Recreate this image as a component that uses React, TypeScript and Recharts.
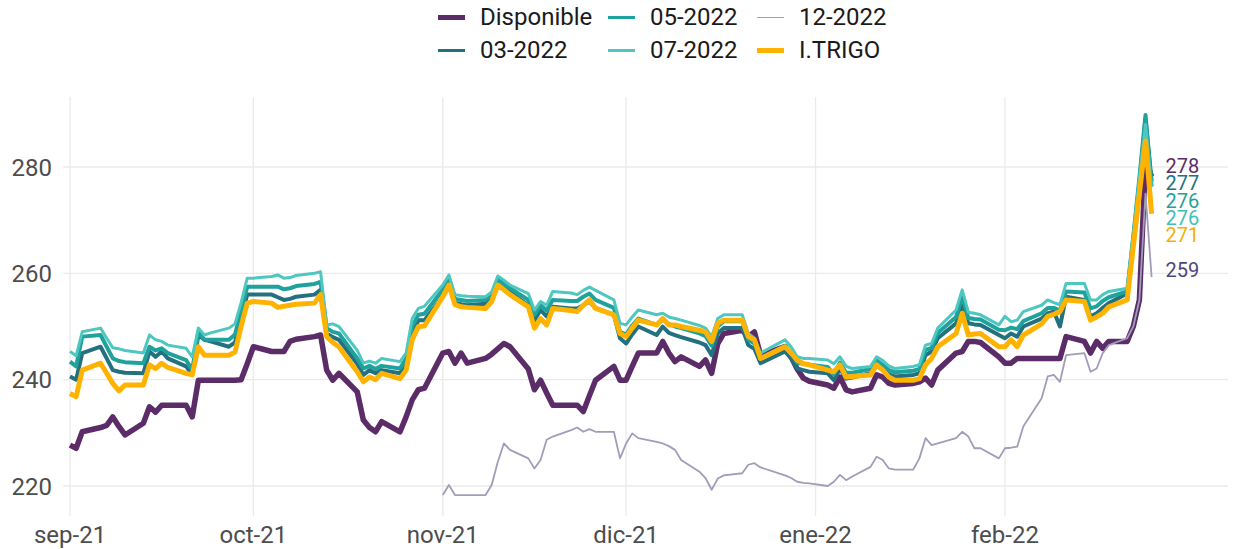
import React from "react";
import { ComposedChart, Line, XAxis, YAxis, CartesianGrid, Scatter } from "recharts";

const dates: string[] = [
  "2021-09-01","2021-09-02","2021-09-03","2021-09-06","2021-09-07","2021-09-08","2021-09-09","2021-09-10",
  "2021-09-13","2021-09-14","2021-09-15","2021-09-16","2021-09-17","2021-09-20","2021-09-21","2021-09-22",
  "2021-09-23","2021-09-24","2021-09-27","2021-09-28","2021-09-29","2021-09-30",
  "2021-10-01","2021-10-04","2021-10-05","2021-10-06","2021-10-07","2021-10-08","2021-10-11","2021-10-12",
  "2021-10-13","2021-10-14","2021-10-15","2021-10-18","2021-10-19","2021-10-20","2021-10-21","2021-10-22",
  "2021-10-25","2021-10-26","2021-10-27","2021-10-28","2021-10-29",
  "2021-11-01","2021-11-02","2021-11-03","2021-11-04","2021-11-05","2021-11-08","2021-11-09","2021-11-10",
  "2021-11-11","2021-11-12","2021-11-15","2021-11-16","2021-11-17","2021-11-18","2021-11-19","2021-11-22",
  "2021-11-23","2021-11-24","2021-11-25","2021-11-26","2021-11-29","2021-11-30",
  "2021-12-01","2021-12-02","2021-12-03","2021-12-06","2021-12-07","2021-12-08","2021-12-09","2021-12-10",
  "2021-12-13","2021-12-14","2021-12-15","2021-12-16","2021-12-17","2021-12-20","2021-12-21","2021-12-22",
  "2021-12-23","2021-12-27","2021-12-28","2021-12-29","2021-12-30","2021-12-31",
  "2022-01-03","2022-01-04","2022-01-05","2022-01-06","2022-01-07","2022-01-10","2022-01-11","2022-01-12",
  "2022-01-13","2022-01-14","2022-01-17","2022-01-18","2022-01-19","2022-01-20","2022-01-21","2022-01-24",
  "2022-01-25","2022-01-26","2022-01-27","2022-01-28","2022-01-31",
  "2022-02-01","2022-02-02","2022-02-03","2022-02-04","2022-02-07","2022-02-08","2022-02-09","2022-02-10",
  "2022-02-11","2022-02-14","2022-02-15","2022-02-16","2022-02-17","2022-02-18","2022-02-21","2022-02-22",
  "2022-02-23","2022-02-24","2022-02-25",
];

const disponible: number[] = [
  227.7,227.1,230.2,231.0,231.4,233.0,231.2,229.6,
  231.8,234.9,233.9,235.2,235.2,235.2,233.0,239.9,
  239.9,239.9,239.9,239.9,240.0,243.0,
  246.2,245.3,245.3,245.3,247.2,247.6,248.1,248.4,
  241.8,239.9,241.2,237.7,232.4,231.0,230.2,232.1,
  230.2,233.0,236.2,238.1,238.4,
  245.0,245.3,243.1,245.0,243.1,244.0,244.8,245.8,
  246.8,246.2,242.0,238.1,239.9,237.5,235.2,235.2,
  235.2,234.0,237.0,239.9,242.5,239.9,
  239.9,242.5,245.0,245.0,247.2,245.0,243.4,244.3,
  242.5,243.7,241.2,246.8,248.7,249.3,248.1,249.0,
  244.6,246.2,244.3,242.0,240.3,239.7,
  239.0,238.4,240.5,238.1,237.7,238.4,240.9,240.5,
  239.3,239.0,239.3,239.6,240.3,239.0,241.8,245.0,
  245.3,247.2,247.2,247.0,244.3,
  243.1,243.1,244.0,244.0,244.0,244.0,244.0,244.0,
  248.1,247.2,245.0,247.2,245.9,247.2,247.2,250.0,
  255.0,281.0,278.2,
];

const m03: number[] = [
  240.6,240.0,245.0,246.2,244.0,241.8,241.5,241.3,
  241.2,245.3,244.3,245.3,244.0,242.5,240.9,248.4,
  247.5,247.2,246.2,247.0,251.5,256.0,
  256.0,256.0,255.5,255.0,255.2,255.6,256.0,256.9,
  248.7,248.0,247.5,243.0,240.9,241.8,241.2,241.8,
  241.2,243.0,248.5,251.2,251.2,
  255.6,258.4,254.5,254.2,254.0,254.3,255.3,258.1,
  257.3,256.5,254.0,251.2,253.1,251.9,253.7,253.4,
  253.4,254.0,254.7,253.5,252.2,247.8,
  246.8,248.5,250.0,248.4,250.0,248.8,248.4,248.0,
  247.0,246.5,244.6,248.7,249.7,249.7,246.5,245.8,
  243.1,245.3,244.0,242.1,241.8,241.5,
  241.2,239.9,242.1,240.2,240.4,241.2,242.8,242.0,
  241.0,240.6,240.9,241.2,244.6,245.3,247.8,250.6,
  254.4,250.6,250.4,250.3,248.4,
  247.8,248.7,248.1,250.0,251.5,252.5,252.8,250.0,
  255.6,255.0,251.9,252.5,253.5,254.4,256.2,266.0,
  277.0,289.0,277.4,
];

const m05: number[] = [
  243.4,242.5,248.1,248.4,246.2,244.0,243.5,243.3,
  243.1,246.2,245.5,245.9,245.0,243.7,241.8,249.0,
  247.5,247.5,247.5,248.5,253.0,257.5,
  257.5,257.5,257.5,257.0,257.2,257.6,258.0,258.4,
  249.7,249.0,248.7,244.0,242.1,242.6,242.0,242.6,
  242.1,244.0,250.0,252.2,252.4,
  256.9,259.0,255.2,255.0,254.8,255.0,256.0,258.8,
  258.0,257.2,255.0,252.2,254.0,253.0,255.0,254.8,
  254.8,255.6,256.2,255.0,253.5,249.0,
  248.5,250.2,251.5,250.3,251.3,250.5,250.0,249.7,
  248.7,248.2,246.4,250.0,251.0,251.0,247.5,246.8,
  244.0,246.4,245.1,243.2,243.0,242.8,
  242.4,241.0,243.2,241.3,241.3,242.0,243.6,242.8,
  241.8,241.4,241.7,242.0,245.6,246.0,248.8,251.8,
  255.7,251.6,251.4,251.3,249.4,
  249.3,249.8,249.5,251.0,252.5,253.5,253.5,253.0,
  256.6,256.4,253.4,253.8,254.8,255.5,256.6,267.0,
  278.0,289.8,276.4,
];

const m07: number[] = [
  245.3,244.5,249.0,249.7,247.8,246.0,245.8,245.5,
  245.0,248.4,247.5,247.2,246.5,245.9,244.3,249.7,
  248.4,248.8,249.7,250.5,254.5,259.1,
  259.1,259.4,259.7,259.1,259.2,259.6,260.0,260.3,
  250.3,250.5,250.0,245.5,243.1,243.5,243.1,244.0,
  243.4,245.0,251.5,253.4,253.8,
  257.8,259.7,256.0,255.8,255.7,255.6,256.5,259.5,
  258.7,257.8,256.2,253.1,254.7,254.0,256.6,256.3,
  256.0,256.8,257.4,256.8,255.0,250.6,
  250.3,251.8,253.1,252.2,252.5,251.8,251.5,251.2,
  250.2,249.7,248.1,251.5,252.2,252.2,248.7,247.8,
  245.0,247.5,246.2,244.3,244.0,244.0,
  243.7,243.0,244.3,242.5,242.1,242.5,244.3,243.6,
  242.6,242.1,242.5,242.8,246.5,246.8,249.7,253.1,
  256.9,252.7,252.5,252.2,250.3,
  251.9,250.9,251.2,252.8,254.0,255.0,254.5,254.1,
  258.1,258.1,255.0,255.0,256.0,256.6,257.2,267.5,
  278.0,288.0,276.2,
];

const m12: (number | null)[] = [
  null,null,null,null,null,null,null,null,
  null,null,null,null,null,null,null,null,
  null,null,null,null,null,null,
  null,null,null,null,null,null,null,null,
  null,null,null,null,null,null,null,null,
  null,null,null,null,null,
  218.3,220.2,218.3,218.3,218.3,218.3,220.2,224.5,
  228.0,226.8,225.2,223.3,224.9,228.7,229.3,230.5,
  231.0,230.2,230.7,230.2,230.2,225.2,
  228.0,229.9,229.0,228.3,228.0,227.5,226.8,224.9,
  222.7,221.5,219.3,221.4,222.0,222.4,224.0,224.3,
  223.5,222.0,221.5,220.8,220.6,220.5,
  220.0,220.8,222.1,221.1,221.8,223.6,225.5,224.9,
  223.3,223.1,223.1,225.2,229.0,227.7,228.0,229.0,
  230.2,229.3,227.1,227.1,225.2,
  227.1,227.2,227.4,231.2,236.5,240.6,240.9,239.6,
  244.6,245.0,241.5,242.1,245.0,246.5,247.8,250.0,
  255.0,275.0,259.3,
];

const itrigo: number[] = [
  237.4,236.8,241.8,243.1,241.2,239.3,237.9,239.0,
  239.0,242.8,242.1,243.1,242.3,241.2,240.9,246.2,
  244.6,244.6,244.6,245.2,250.0,254.4,
  254.7,254.4,253.6,253.8,254.0,254.2,254.4,256.0,
  248.1,247.0,246.2,241.5,239.6,240.5,240.0,241.2,
  240.2,241.8,247.5,250.0,250.1,
  255.6,257.8,254.1,253.7,253.6,253.4,254.7,257.8,
  256.9,256.0,253.7,249.7,251.5,250.3,253.4,253.0,
  252.8,254.0,255.0,253.4,252.2,248.7,
  248.1,249.7,251.2,250.3,251.5,250.3,250.3,250.0,
  249.3,249.0,247.2,250.6,251.2,251.2,248.1,247.5,
  244.0,246.2,245.0,243.7,243.0,242.8,
  241.8,241.5,242.8,240.5,240.6,240.9,242.8,241.8,
  240.5,239.9,239.9,240.2,242.8,244.0,246.2,248.7,
  252.5,248.4,248.6,248.7,246.2,
  246.2,247.5,246.2,248.4,250.5,251.9,252.3,252.8,
  255.0,254.7,251.2,251.8,252.5,253.7,255.0,265.0,
  275.0,284.9,271.2,
];

const seriesNames: string[] = ["Disponible", "03-2022", "05-2022", "07-2022", "12-2022", "I.TRIGO"];
const monthTickDates: string[] = ["2021-09-01", "2021-10-01", "2021-11-01", "2021-12-01", "2022-01-01", "2022-02-01"];
const monthLabels: string[] = ["sep-21", "oct-21", "nov-21", "dic-21", "ene-22", "feb-22"];
const yTicks: number[] = [220, 240, 260, 280];

// styles (kept apart from the data)
const seriesStyle: Record<string, { color: string; width: number; label: string }> = {
  "Disponible": { color: "#5b2c67", width: 5.5, label: "#5b2c67" },
  "03-2022": { color: "#23707f", width: 4, label: "#23707f" },
  "05-2022": { color: "#1fa19c", width: 4, label: "#1fa19c" },
  "07-2022": { color: "#4dc7bf", width: 3, label: "#3fc0b6" },
  "12-2022": { color: "#a19db9", width: 1.8, label: "#4a487a" },
  "I.TRIGO": { color: "#ffb300", width: 5, label: "#f5b000" },
};

const ORIGIN = Date.UTC(2021, 8, 1);
const toDay = (s: string) => {
  const [y, m, d] = s.split("-").map(Number);
  return Math.round((Date.UTC(y, m - 1, d) - ORIGIN) / 86400000);
};

const seriesValues: Record<string, (number | null)[]> = {
  "Disponible": disponible,
  "03-2022": m03,
  "05-2022": m05,
  "07-2022": m07,
  "12-2022": m12,
  "I.TRIGO": itrigo,
};

const rows = dates.map((d, i) => {
  const r: Record<string, number | null> = { day: toDay(d) };
  seriesNames.forEach((n) => (r[n] = seriesValues[n][i]));
  return r;
});

const tickDays = monthTickDates.map(toDay);
const tickLabelFor = (v: number) => {
  const i = tickDays.indexOf(v);
  return i >= 0 ? monthLabels[i] : "";
};

// end labels, spread apart so they do not overlap (in value units)
const lastIdx = dates.length - 1;
const lastDay = toDay(dates[lastIdx]);
const endLabels = (() => {
  const items = seriesNames
    .map((n) => ({ name: n, value: seriesValues[n][lastIdx] as number }))
    .sort((a, b) => b.value - a.value);
  const out: { day: number; pos: number; text: string; color: string }[] = [];
  let prev = Infinity;
  items.forEach((it, k) => {
    const target = k === 0 ? it.value + 2.0 : it.value + 1.3;
    const pos = Math.min(target, prev - 3.25);
    prev = pos;
    out.push({ day: lastDay, pos, text: String(Math.round(it.value)), color: seriesStyle[it.name].label });
  });
  return out;
})();

const FONT = "Roboto, 'Noto Sans', sans-serif";

const renderEndLabel = (p: any) => {
  const item = p.payload;
  return (
    <text
      x={p.cx + 14}
      y={p.cy}
      dy="0.355em"
      textAnchor="start"
      fontFamily={FONT}
      fontSize={20}
      fill={item.color}
    >
      {item.text}
    </text>
  );
};

function LegendBlock() {
  return (
    <div
      style={{
        position: "absolute",
        left: 438,
        top: 1,
        display: "grid",
        gridAutoFlow: "column",
        gridTemplateRows: "33px 33px",
        gridTemplateColumns: "170px 149px auto",
        fontFamily: FONT,
        fontSize: 24,
        color: "#1a1a1a",
      }}
    >
      {seriesNames.map((n) => (
        <div key={n} style={{ display: "flex", alignItems: "center", height: 33 }}>
          <span
            style={{
              display: "inline-block",
              width: 27,
              height: Math.max(1.5, seriesStyle[n].width - 0.5),
              background: seriesStyle[n].color,
              marginRight: 15,
            }}
          />
          <span style={{ lineHeight: "33px", whiteSpace: "nowrap" }}>{n}</span>
        </div>
      ))}
    </div>
  );
}

export default function App() {
  return (
    <div style={{ position: "absolute", left: 0, top: 0, width: 1237, height: 549, background: "#ffffff" }}>
      <ComposedChart width={1237} height={549} data={rows} margin={{ top: 97, right: 9, bottom: 0, left: 0 }}>
        <CartesianGrid
          stroke="#ebebeb"
          strokeWidth={1.3}
          horizontalValues={yTicks}
          verticalValues={tickDays}
        />
        <XAxis
          type="number"
          dataKey="day"
          domain={[-1.15, 189.5]}
          ticks={tickDays}
          interval={0}
          tickFormatter={tickLabelFor}
          height={33}
          axisLine={false}
          tickLine={false}
          tickSize={0}
          tickMargin={10}
          allowDataOverflow
          tick={{ fill: "#4d4d4d", fontSize: 24, fontFamily: FONT }}
        />
        <YAxis
          type="number"
          domain={[214.36, 293.17]}
          ticks={yTicks}
          interval={0}
          width={63}
          axisLine={false}
          tickLine={false}
          tickSize={0}
          tickMargin={11}
          allowDataOverflow
          tick={{ fill: "#4d4d4d", fontSize: 24, fontFamily: FONT }}
        />
        {seriesNames.map((n) => (
          <Line
            key={n}
            type="linear"
            dataKey={n}
            stroke={seriesStyle[n].color}
            strokeWidth={seriesStyle[n].width}
            strokeLinejoin="round"
            strokeLinecap="butt"
            dot={false}
            activeDot={false}
            isAnimationActive={false}
            connectNulls={false}
          />
        ))}
        <Scatter data={endLabels} dataKey="pos" shape={renderEndLabel} isAnimationActive={false} />
      </ComposedChart>
      <LegendBlock />
    </div>
  );
}
